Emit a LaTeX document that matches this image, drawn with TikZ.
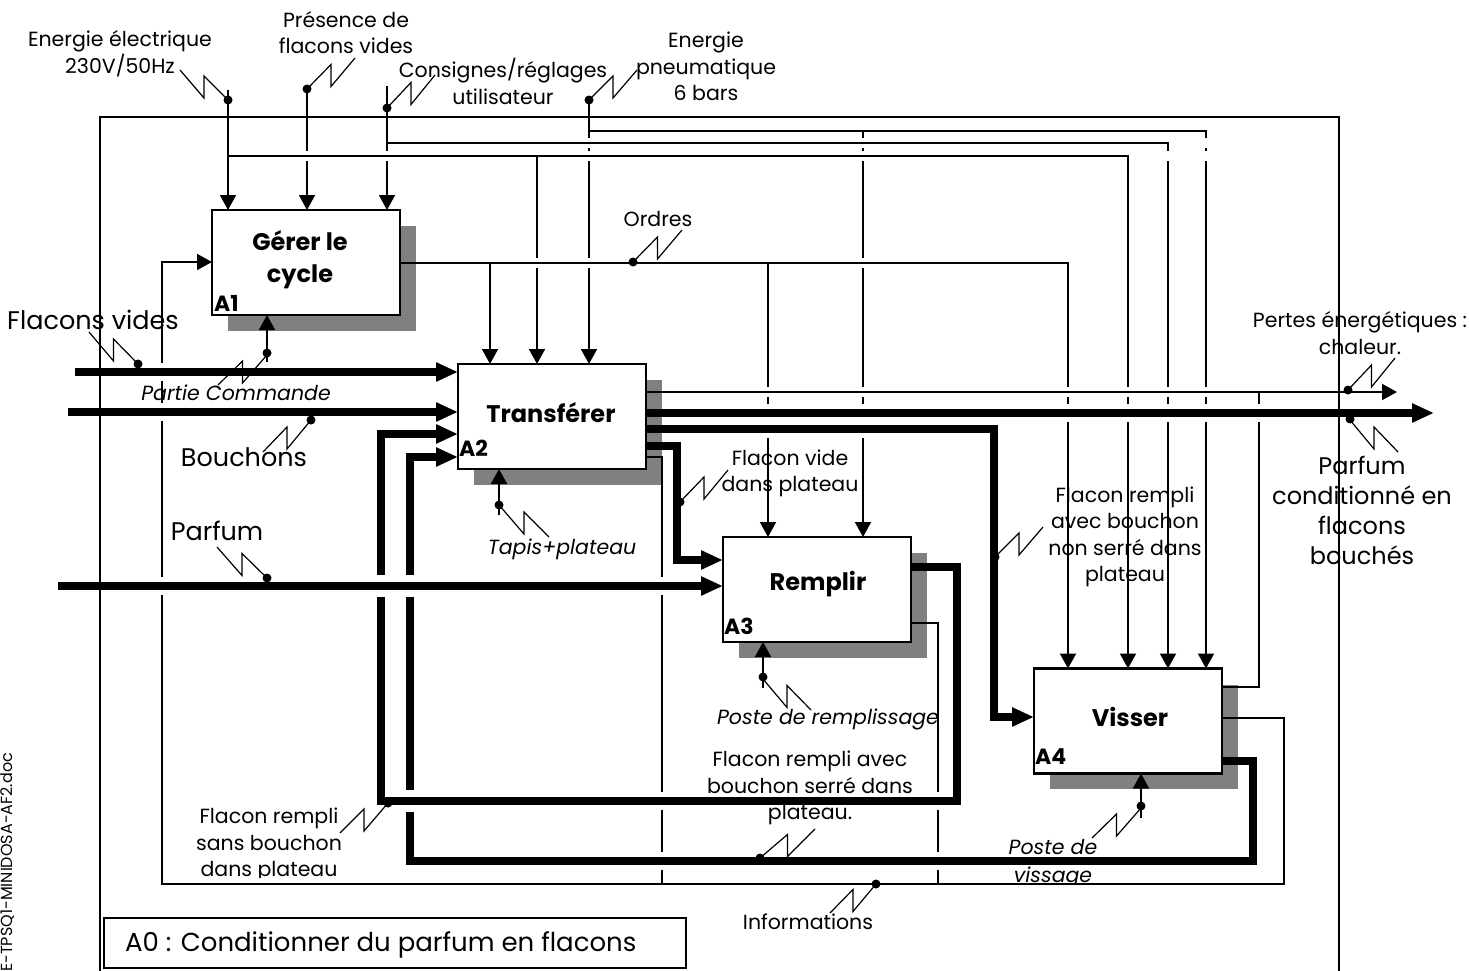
\documentclass[tikz,border=0pt]{standalone}
\usepackage{fontspec}
\setmainfont{Poppins}
\usetikzlibrary{arrows.meta,calc}
\definecolor{shadowgray}{RGB}{128,128,128}
\newcommand\zigz[2]{\draw[zig] #1 -- ($#1!0.5!#2+(0,13)$) -- ($#1!0.5!#2+(0,-9)$) -- #2;}
\newcommand\gapA[2]{\fill[white] (#1-4,#2-5) rectangle (#1+4,#2+5);}
\newcommand\gapB[2]{\fill[white] (#1-4,#2-9) rectangle (#1+4,#2+9);}
\newcommand\gapC[2]{\fill[white] (#1-6,#2-11) rectangle (#1+6,#2+11);}
\begin{document}
\begin{tikzpicture}[x=1pt,y=-1pt,
  ln/.style={line width=1.8pt},
  tk/.style={line width=7.5pt},
  ar/.style={ln,-{Triangle[length=15pt,width=16pt]}},
  AR/.style={tk,-{Triangle[length=22pt,width=18pt]}},
  box/.style={draw,line width=2.6pt,fill=white,minimum width=188pt,minimum height=105pt,inner sep=0pt,outer sep=0pt},
  zig/.style={line width=1.2pt},
  lbl/.style={font=\fontsize{20.5}{26.5}\selectfont,align=center,inner sep=0pt},
  big/.style={font=\fontsize{24}{30}\selectfont,align=center,inner sep=0pt},
  bigl/.style={font=\fontsize{25.5}{30}\selectfont,align=center,inner sep=0pt},
  ital/.style={font=\fontsize{20.5}{28}\selectfont\itshape,align=center,inner sep=0pt},
  ttl/.style={font=\fontsize{24}{32}\selectfont\bfseries,align=center,inner sep=0pt},
  num/.style={font=\fontsize{22}{24}\selectfont\bfseries,inner sep=0pt,anchor=south west},
]
\useasboundingbox (0,0) rectangle (1469,971);
\fill[white] (0,0) rectangle (1469,971);
% frame
\draw[line width=2pt] (100,980) -- (100,117) -- (1339,117) -- (1339,980);
\node[draw,line width=2pt,minimum width=582pt,minimum height=50pt,inner sep=0pt,outer sep=0pt] (A0) at (395,943) {};
% shadows
\fill[shadowgray] (228,226) rectangle (416,331);
\fill[shadowgray] (474,380) rectangle (662,485);
\fill[shadowgray] (739,553) rectangle (927,658);
\fill[shadowgray] (1050,685) rectangle (1238,789);
% boxes
\node[box] (A1) at (306,262.5) {};
\node[box] (A2) at (552,416.5) {};
\node[box] (A3) at (817,589.5) {};
\node[box] (A4) at (1128,721) {};
% controls
\draw[ar] (228,90) -- (A1.north -| 228,0);
\draw[ar] (228,156) -- (1128,156) -- (A4.north -| 1128,0);
\draw[ar] (537,156) -- (A2.north -| 537,0);
\draw[ar] (307,89) -- (A1.north -| 307,0);
\draw[ar] (387,86) -- (A1.north -| 387,0);
\draw[ar] (387,143) -- (1168,143) -- (A4.north -| 1168,0);
\draw[ar] (589,100) -- (A2.north -| 589,0);
\draw[ar] (589,131) -- (1206,131) -- (A4.north -| 1206,0);
\draw[ar] (863,131) -- (A3.north -| 863,0);
\draw[ar] (A1.east |- 0,263) -- (1068,263) -- (A4.north -| 1068,0);
\draw[ar] (490,263) -- (A2.north -| 490,0);
\draw[ar] (768,263) -- (A3.north -| 768,0);
% inputs
\draw[AR] (75,372) -- (A2.west |- 0,372);
\draw[AR] (68,412) -- (A2.west |- 0,412);
\draw[AR] (58,586) -- (A3.west |- 0,586);
% mechanisms
\draw[ar] (267,362) -- (A1.south -| 267,0);
\draw[ar] (499,515) -- (A2.south -| 499,0);
\draw[ar] (763,688) -- (A3.south -| 763,0);
\draw[ar] (1141,818) -- (A4.south -| 1141,0);
% A2 outputs
\draw[ar] (A2.east |- 0,392) -- (1397,392);
\draw[AR] (A2.east |- 0,413) -- (1434,413);
\draw[AR] (A2.east |- 0,429) -- (994,429) -- (994,717) -- (A4.west |- 0,717);
\draw[AR] (A2.east |- 0,446) -- (677,446) -- (677,560) -- (A3.west |- 0,560);
\draw[ln] (A2.east |- 0,457) -- (662,457) -- (662,884);
% A3 outputs
\draw[AR] (A3.east |- 0,567) -- (957,567) -- (957,801) -- (381,801) -- (381,434) -- (A2.west |- 0,434);
\draw[ln] (A3.east |- 0,623) -- (938,623) -- (938,884);
% A4 outputs
\draw[ln] (A4.east |- 0,687) -- (1259,687) -- (1259,392);
\draw[ar] (A4.east |- 0,718) -- (1284,718) -- (1284,884) -- (162,884) -- (162,262) -- (A1.west |- 0,262);
\draw[AR] (A4.east |- 0,761) -- (1253,761) -- (1253,861) -- (410,861) -- (410,457) -- (A2.west |- 0,457);
% crossing gaps
\gapA{307}{156}\gapA{387}{156}\gapA{589}{143}\gapA{589}{156}\gapA{589}{263}\gapA{537}{263}
\gapA{863}{143}\gapA{863}{156}\gapA{863}{263}\gapA{863}{392}\gapA{768}{392}
\gapA{1068}{392}\gapA{1128}{392}\gapA{1168}{392}\gapA{1206}{392}
\gapA{1168}{156}\gapA{1206}{143}\gapA{1206}{156}
\gapB{863}{413}\gapB{863}{429}\gapB{768}{413}\gapB{768}{429}
\gapB{1068}{413}\gapB{1128}{413}\gapB{1168}{413}\gapB{1206}{413}\gapB{1259}{413}
\gapB{162}{372}\gapB{162}{412}\gapB{162}{586}
\gapB{662}{586}\gapB{662}{801}\gapB{662}{861}\gapB{938}{801}\gapB{938}{861}
\gapC{381}{586}\gapC{410}{586}\gapC{410}{801}
% redraw horizontals
\draw[ln] (240,156) -- (1120,156);
\draw[ln] (395,143) -- (1160,143);
\draw[ln] (597,131) -- (1198,131);
\draw[ln] (405,263) -- (1060,263);
\draw[ln] (650,392) -- (1380,392);
\draw[tk] (650,413) -- (1410,413);
\draw[tk] (650,429) -- (985,429);
\draw[tk] (80,372) -- (430,372);
\draw[tk] (73,412) -- (430,412);
\draw[tk] (63,586) -- (695,586);
\draw[tk] (390,801) -- (950,801);
\draw[tk] (418,861) -- (1245,861);
% zigzags
\zigz{(180,70)}{(228,100)}
\zigz{(355,58)}{(307,89)}
\zigz{(435,75)}{(387,108)}
\zigz{(637,70)}{(589,100)}
\zigz{(682,230)}{(633,262)}
\zigz{(89,332)}{(138,364)}
\zigz{(267,355)}{(218,385)}
\zigz{(311,420)}{(263,452)}
\zigz{(217,547)}{(267,578)}
\zigz{(499,505)}{(549,537)}
\zigz{(728,470)}{(680,502)}
\zigz{(763,679)}{(811,710)}
\zigz{(1043,527)}{(995,557)}
\zigz{(388,803)}{(340,833)}
\zigz{(815,829)}{(760,858)}
\zigz{(876,884)}{(830,913)}
\zigz{(1141,808)}{(1092,838)}
\zigz{(1395,358)}{(1348,390)}
\zigz{(1350,420)}{(1398,452)}
% dots
\foreach \p in {(228,100),(307,89),(387,108),(589,100),(633,262),(138,364),(267,353),(311,420),(267,578),(499,505),(680,502),(763,677),(995,557),(388,803),(760,858),(876,884),(1141,806),(1348,390),(1350,419)}
  \fill \p circle[radius=4.5pt];
% box texts
\node[ttl] (tA1) at (300,260) {Gérer le\\cycle};
\node[ttl] (tA2) at (551,413) {Transférer};
\node[ttl] (tA3) at (818,584) {Remplir};
\node[ttl] (tA4) at (1130,717) {Visser};
\node[num] (nA1) at (214,312) {A1};
\node[num] (nA2) at (459,457) {A2};
\node[num] (nA3) at (724,635) {A3};
\node[num] (nA4) at (1035,765) {A4};
% labels
\node[lbl] (tEE) at (120,53.5) {Energie électrique\\230V/50Hz};
\node[lbl] (tPF) at (346,32.5) {Présence de\\flacons vides};
\node[lbl] (tCR) at (503,81.5) {Consignes/réglages\\utilisateur};
\node[lbl] (tEP) at (706,66.5) {Energie\\pneumatique\\6 bars};
\node[lbl] (tOr) at (658,219) {Ordres};
\node[bigl] (tFV) at (93,320) {Flacons vides};
\node[ital] (tPC) at (236,393) {Partie Commande};
\node[bigl] (tBo) at (244,457) {Bouchons};
\node[bigl] (tPa) at (217,531) {Parfum};
\node[ital] (tTP) at (562,549) {Tapis+plateau};
\node[lbl] (tFVP) at (790,473.5) {Flacon vide\\dans plateau};
\node[ital] (tPR) at (828,719) {Poste de remplissage};
\node[lbl] (tFRS) at (810,788) {Flacon rempli avec\\bouchon serré dans\\plateau.};
\begin{scope}
\clip (150,780) rectangle (400,877);
\node[lbl] (tFSB) at (269,845) {Flacon rempli\\sans bouchon\\dans plateau};
\end{scope}
\node[lbl] (tNS) at (1125,537) {Flacon rempli\\avec bouchon\\non serré dans\\plateau};
\node[lbl] (tPE) at (1360,333) {Pertes énergétiques :\\chaleur.};
\node[big] (tPCF) at (1362,510) {Parfum\\conditionné en\\flacons\\bouchés};
\begin{scope}
\clip (980,820) rectangle (1130,883);
\node[ital] (tPV) at (1053,864) {Poste de\\vissage};
\end{scope}
\node[lbl] (tIn) at (808,922) {Informations};
\node[anchor=west,font=\fontsize{26}{30}\selectfont,inner sep=0pt] (tA0) at (125,945) {A0 : Conditionner du parfum en flacons};
\node[font=\fontsize{16}{18}\selectfont,rotate=90,anchor=west,inner sep=0pt] (tdoc) at (8,972) {E-TPSQ1-MINIDOSA-AF2.doc};
\end{tikzpicture}
\end{document}
